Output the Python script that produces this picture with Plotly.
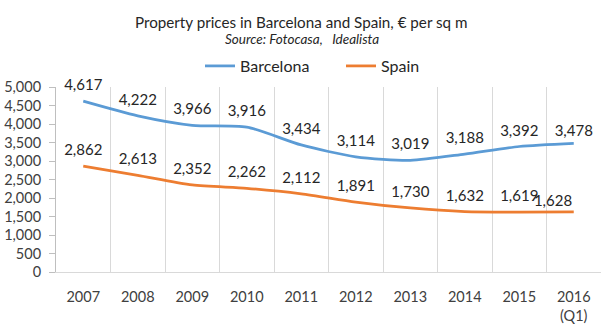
import plotly.graph_objects as go

years = ["2007", "2008", "2009", "2010", "2011", "2012", "2013", "2014", "2015", "2016<br>(Q1)"]
barcelona = [4617, 4222, 3966, 3916, 3434, 3114, 3019, 3188, 3392, 3478]
spain = [2862, 2613, 2352, 2262, 2112, 1891, 1730, 1632, 1619, 1628]
yticks = [0, 500, 1000, 1500, 2000, 2500, 3000, 3500, 4000, 4500, 5000]

FONT = "Lato"
x = list(range(len(years)))

def fmt(v):
    return f"{v:,}"

TRANSPARENT = "rgba(0,0,0,0)"
series = [
    ("Barcelona", barcelona, "#5B9BD5", ["top center"] * 10, [10] * 9 + [4]),
    ("Spain", spain, "#ED7D31", ["top center"] * 9 + ["top left"], [10] * 9 + [1]),
]

fig = go.Figure()
for name, vals, col, pos, msize in series:
    fig.add_trace(go.Scatter(
        x=x, y=vals, name=name, mode="lines+markers+text",
        line=dict(color=col, width=2.75, shape="spline", smoothing=0.7),
        marker=dict(size=msize, color=TRANSPARENT, line=dict(width=0)),
        text=[fmt(v) for v in vals], textposition=pos,
        textfont=dict(family=FONT, size=15, color="#262626"), cliponaxis=False,
        showlegend=False,
    ))
    fig.add_trace(go.Scatter(
        x=[None], y=[None], name=name, mode="lines",
        line=dict(color=col, width=2.75), showlegend=True,
    ))

T, B, L, R = 87, 55, 56, 1
ph = 327 - T - B
pw = 602 - L - R

def ax(px):
    return (px - L) / pw

def ay(py):
    return (327 - B - py) / ph

fig.update_layout(
    width=602, height=327,
    margin=dict(l=L, r=R, t=T, b=B, autoexpand=False),
    paper_bgcolor="white", plot_bgcolor="white",
    font=dict(family=FONT, size=13, color="#404040"),
    showlegend=True,
    legend=dict(orientation="h", x=ax(200), xanchor="left", xref="paper",
                y=1 - 66 / 327, yref="container", yanchor="middle",
                font=dict(family=FONT, size=16, color="#262626"),
                entrywidth=96, itemwidth=30, traceorder="normal"),
    annotations=[
        dict(text="Property prices in Barcelona and Spain, € per sq m", x=ax(301), y=ay(22),
             xref="paper", yref="paper", showarrow=False, xanchor="center", yanchor="middle",
             font=dict(family=FONT, size=15.2, color="#262626")),
        dict(text="<i>Source: Fotocasa,   Idealista</i>", x=ax(302), y=ay(39),
             xref="paper", yref="paper", showarrow=False, xanchor="center", yanchor="middle",
             font=dict(family=FONT, size=13.5, color="#262626")),
    ],
)

fig.update_xaxes(
    range=[-0.5, 9.5], tickvals=x, ticktext=years, showgrid=False,
    showline=True, linecolor="#d9d9d9", linewidth=1, ticks="", zeroline=False,
    tickfont=dict(family=FONT, size=14.5, color="#404040"), ticklabelstandoff=12,
    minor=dict(tickvals=[i + 0.5 for i in range(9)], showgrid=True,
               gridcolor="#d9d9d9", gridwidth=1),
)
fig.update_yaxes(
    range=[0, 5000], tickvals=yticks, tickformat=",", showgrid=False,
    showline=True, linecolor="#bfbfbf", linewidth=1, ticks="outside",
    ticklen=6, tickcolor="#bfbfbf", zeroline=False,
    tickfont=dict(family=FONT, size=14.5, color="#404040"), ticklabelstandoff=5,
)

fig.write_html("out.html")
